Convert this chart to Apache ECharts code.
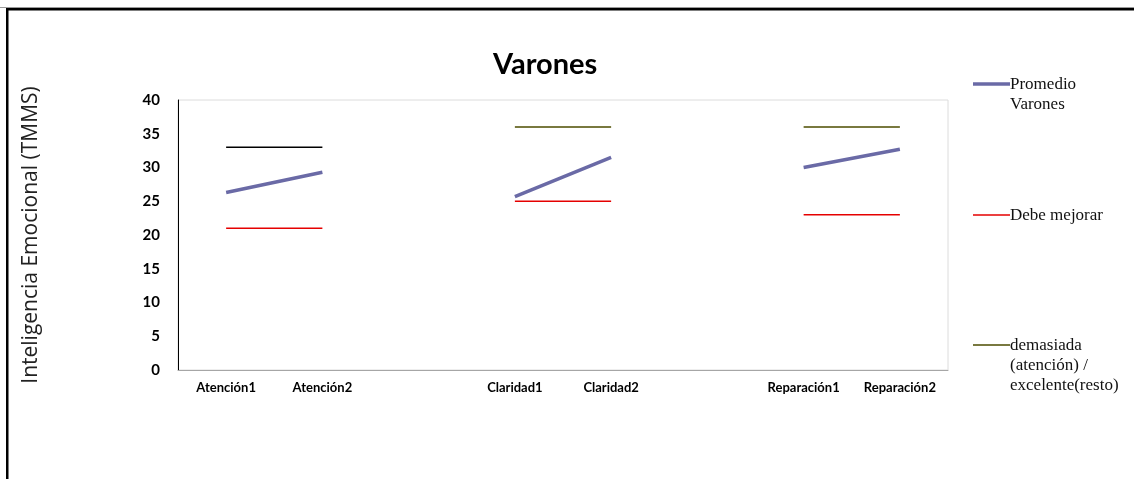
<!DOCTYPE html>
<html>
<head>
<meta charset="utf-8">
<script src="https://cdn.jsdelivr.net/npm/echarts@6/dist/echarts.min.js"></script>
<style>
  html, body { margin: 0; padding: 0; background: #fff; }
  #chart { width: 1134px; height: 479px; }
</style>
</head>
<body>
<div id="chart"></div>
<script>
// Categories (blank slots separate the three dimensions)
const categories = ['Atención1', 'Atención2', '', 'Claridad1', 'Claridad2', '', 'Reparación1', 'Reparación2'];
const yTicks = [0, 5, 10, 15, 20, 25, 30, 35, 40];

// Average score for boys
const promedioVarones = [26.3, 29.3, null, 25.7, 31.5, null, 30.0, 32.7];
// "Needs improvement" threshold
const debeMejorar = [21, 21, null, 25, 25, null, 23, 23];
// "Too much (attention) / excellent (rest)" threshold
const excelente = [null, null, null, 36, 36, null, 36, 36];
const demasiadaAtencion = [33, 33, null, null, null, null, null, null];

const legendItems = [
  { lines: ['Promedio', 'Varones'], color: '#6a6aa6', width: 3.5, y: 84 },
  { lines: ['Debe mejorar'], color: '#e50000', width: 1.5, y: 215 },
  { lines: ['demasiada', '(atención) /', 'excelente(resto)'], color: '#4d4d00', width: 1.5, y: 345 }
];

const chart = echarts.init(document.getElementById('chart'));

// Legend entries: short line swatch followed by (possibly wrapped) label
const legendGraphics = legendItems.map(item => ({
  type: 'group',
  x: 973,
  y: item.y,
  children: [
    { type: 'line', shape: { x1: 0, y1: 0, x2: 37, y2: 0 },
      style: { stroke: item.color, lineWidth: item.width } },
    { type: 'text', x: 37, y: -9,
      style: { text: item.lines.join('\n'), font: '17px "Liberation Serif"',
               lineHeight: 20, fill: '#111', textVerticalAlign: 'top' } }
  ]
}));

const lineSeries = (name, data, color, width) => ({
  name, type: 'line', data, symbol: 'none', connectNulls: false,
  lineStyle: { color, width }, itemStyle: { color }, z: 3
});

chart.setOption({
  animation: false,
  title: {
    text: 'Varones', left: 488, top: 45,
    textStyle: { fontFamily: 'Lato', fontWeight: 'bold', fontSize: 29, color: '#000' }
  },
  grid: {
    left: 178, top: 100, right: 186, bottom: 109,
    show: true, borderColor: '#dcdcdc', borderWidth: 1
  },
  xAxis: {
    type: 'category', data: categories, boundaryGap: true,
    axisLine: { lineStyle: { color: '#a6a6a6', width: 1 } },
    axisTick: { show: false },
    axisLabel: { interval: 0, margin: 11, fontFamily: 'Lato', fontWeight: 'bold', fontSize: 13, color: '#000' }
  },
  yAxis: {
    type: 'value', min: yTicks[0], max: yTicks[yTicks.length - 1], interval: 5,
    name: 'Inteligencia Emocional (TMMS)', nameLocation: 'middle', nameGap: 136,
    nameTextStyle: { fontFamily: 'Open Sans', fontSize: 21, color: '#222' },
    axisLine: { show: true, lineStyle: { color: '#000', width: 1 } },
    axisTick: { show: false },
    splitLine: { show: false },
    axisLabel: { margin: 18, fontFamily: 'Lato', fontWeight: 'bold', fontSize: 15, color: '#000' }
  },
  series: [
    lineSeries('demasiada (atención) / excelente(resto)', excelente, '#4d4d00', 1.5),
    lineSeries('demasiada atención', demasiadaAtencion, '#000000', 1.5),
    lineSeries('Debe mejorar', debeMejorar, '#e50000', 1.5),
    lineSeries('Promedio Varones', promedioVarones, '#6a6aa6', 3.5)
  ],
  graphic: [
    { type: 'rect', shape: { x: 0, y: 7, width: 1134, height: 1 }, style: { fill: '#9a9a9a' } },
    { type: 'rect', shape: { x: 6, y: 8, width: 1128, height: 2.5 }, style: { fill: '#000' } },
    { type: 'rect', shape: { x: 6, y: 8, width: 2.5, height: 471 }, style: { fill: '#000' } },
    ...legendGraphics
  ]
});
</script>
</body>
</html>
